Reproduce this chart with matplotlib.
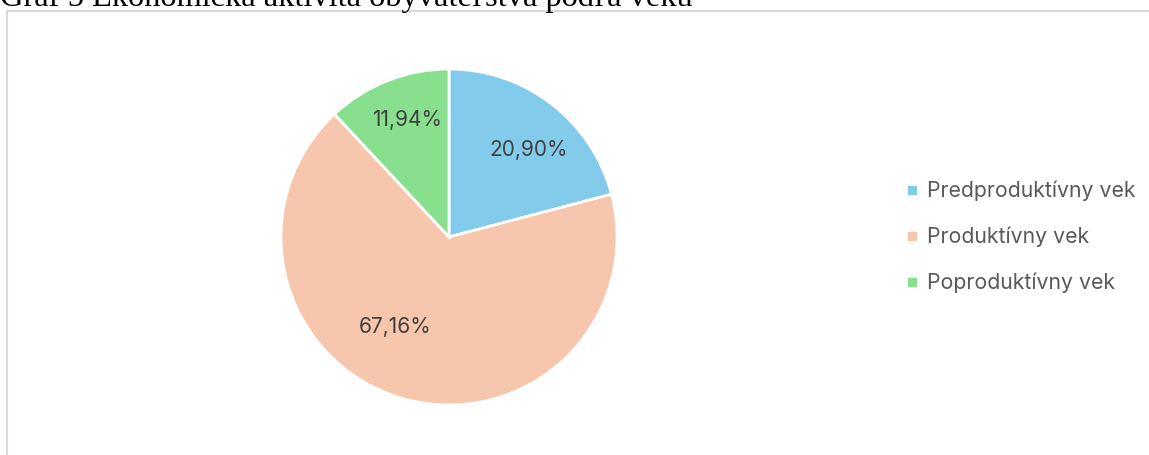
import numpy as np
import matplotlib
matplotlib.use('Agg')
import matplotlib.pyplot as plt
from matplotlib.lines import Line2D

# Dáta grafu
kategorie = ['Predproduktívny vek', 'Produktívny vek', 'Poproduktívny vek']
podiely = [20.90, 67.16, 11.94]
popisky = ['20,90%', '67,16%', '11,94%']
farby = ['#83CBEB', '#F6C7AD', '#88E08E']
nadpis = 'Graf 5 Ekonomická aktivita obyvateľstva podľa veku'

W, H = 1149, 455
fig = plt.figure(figsize=(W / 100, H / 100), dpi=100)

# Nadpis (orezaný hore ako v dokumente)
fig.text(0, 1 - 6 / H, nadpis, family='Liberation Serif', fontsize=23.3,
         color='black', ha='left', va='baseline')

# Rámček grafu
ramcek = '#D9D9D9'
fig.add_artist(Line2D([7 / W, 1], [1 - 11 / H, 1 - 11 / H], color=ramcek, lw=1.5))
fig.add_artist(Line2D([7 / W, 7 / W], [0, 1 - 11 / H], color=ramcek, lw=1.5))

# Koláčový graf
cx, cy, r = 449, H - 237, 168
ax = fig.add_axes([(cx - r) / W, (cy - r) / H, 2 * r / W, 2 * r / H])
wedges, texty = ax.pie(podiely, colors=farby, startangle=90, counterclock=False,
                       radius=1, wedgeprops=dict(edgecolor='white', linewidth=2))
ax.set_xlim(-1, 1)
ax.set_ylim(-1, 1)
ax.set_aspect('equal')
ax.axis('off')

# Popisky percent (poloha: vzdialenosť od stredu, uhol)
polohy = [(0.70, 47.5), (0.625, -121), (0.74, 109.7)]
for (vzd, uhol), txt in zip(polohy, popisky):
    u = np.deg2rad(uhol)
    ax.text(vzd * np.cos(u), vzd * np.sin(u), txt, ha='center',
            va='center', fontsize=15, color='#404040', family='Inter')

# Legenda
handles = [Line2D([], [], marker='s', linestyle='none', markersize=6,
                  markerfacecolor=c, markeredgecolor=c) for c in farby]
fig.legend(handles, kategorie, loc='center left', bbox_to_anchor=(886 / W, 1 - 237 / H),
           frameon=False, prop={'family': 'Inter', 'size': 15.3},
           labelcolor='#595959', handlelength=0.6, handletextpad=0.45,
           labelspacing=1.2)

fig.savefig('out.png', dpi=100)
